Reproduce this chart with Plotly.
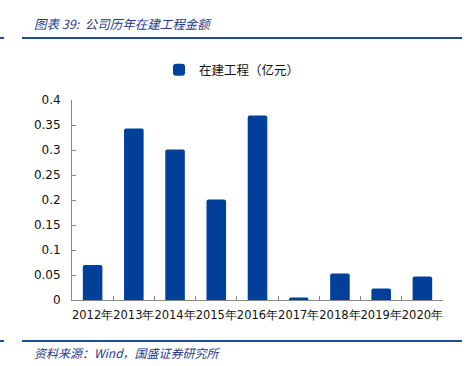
import plotly.graph_objects as go

years = ["2012年", "2013年", "2014年", "2015年", "2016年", "2017年", "2018年", "2019年", "2020年"]
values = [0.070, 0.343, 0.301, 0.201, 0.369, 0.005, 0.053, 0.023, 0.047]
series_name = "在建工程（亿元）"
y_ticks = [0, 0.05, 0.1, 0.15, 0.2, 0.25, 0.3, 0.35, 0.4]
y_tick_text = ["0", "0.05", "0.1", "0.15", "0.2", "0.25", "0.3", "0.35", "0.4"]
title_text = "图表 39:  公司历年在建工程金额"
source_text = "资料来源：Wind，国盛证券研究所"

W, H = 472, 366
L, R, T, B = 72, 443, 100, 300

def px(x):
    return (x - L) / (R - L)

def py(y):
    return (B - y) / (B - T)

blue = "#00409A"
line_blue = "#1F4E9F"
title_blue = "#1F3C88"

fig = go.Figure()
fig.add_trace(go.Bar(
    x=years, y=values, name=series_name,
    marker=dict(color=blue, cornerradius=2, line=dict(width=0)),
    width=0.475,
    showlegend=True,
))

fig.update_layout(
    width=W, height=H,
    margin=dict(l=L, r=W - R, t=T, b=H - B, pad=0, autoexpand=False),
    paper_bgcolor="white", plot_bgcolor="white",
    font=dict(family="DejaVu Sans, Verdana, sans-serif", size=12, color="#222222"),
    bargap=0.5,
    showlegend=True,
    legend=dict(
        orientation="h", x=px(232), xanchor="center", y=py(70), yanchor="middle",
        font=dict(family="Noto Sans CJK SC", size=12.5, color="#111111"),
        itemwidth=30, bgcolor="rgba(0,0,0,0)",
    ),
    xaxis=dict(
        type="category", showgrid=False, showline=True, linecolor="#898989", linewidth=1,
        ticks="inside", ticklen=4, tickcolor="#898989", tickson="boundaries",
        tickangle=0, automargin=False,
        tickfont=dict(family="DejaVu Sans, Verdana, sans-serif", size=11.5, color="#111111"),
        ticklabelstandoff=4,
    ),
    yaxis=dict(
        range=[0, 0.4], tickvals=y_ticks, ticktext=y_tick_text,
        showgrid=False, showline=True, linecolor="#898989", linewidth=1,
        ticks="inside", ticklen=4, tickcolor="#898989", zeroline=False, automargin=False,
        tickfont=dict(family="DejaVu Sans, Verdana, sans-serif", size=12, color="#111111"),
        ticklabelstandoff=8,
    ),
)

# header / footer rules
for yy in (38, 341):
    fig.add_shape(type="line", xref="paper", yref="paper",
                  x0=px(22), x1=px(462), y0=py(yy), y1=py(yy),
                  line=dict(color=line_blue, width=2))
    fig.add_shape(type="line", xref="paper", yref="paper",
                  x0=px(0), x1=px(4), y0=py(yy), y1=py(yy),
                  line=dict(color=line_blue, width=2))

fig.add_annotation(text=title_text, xref="paper", yref="paper",
                   x=px(32), y=py(23), xanchor="left", yanchor="middle", showarrow=False,
                   font=dict(family="Noto Sans CJK SC", size=12.5, color=title_blue, style="italic"))
fig.add_annotation(text=source_text, xref="paper", yref="paper",
                   x=px(32), y=py(352), xanchor="left", yanchor="middle", showarrow=False,
                   font=dict(family="Noto Sans CJK SC", size=12, color=title_blue, style="italic"))

fig.write_html("out.html", config={"displayModeBar": False},
               post_script="document.body.style.margin='0';")
